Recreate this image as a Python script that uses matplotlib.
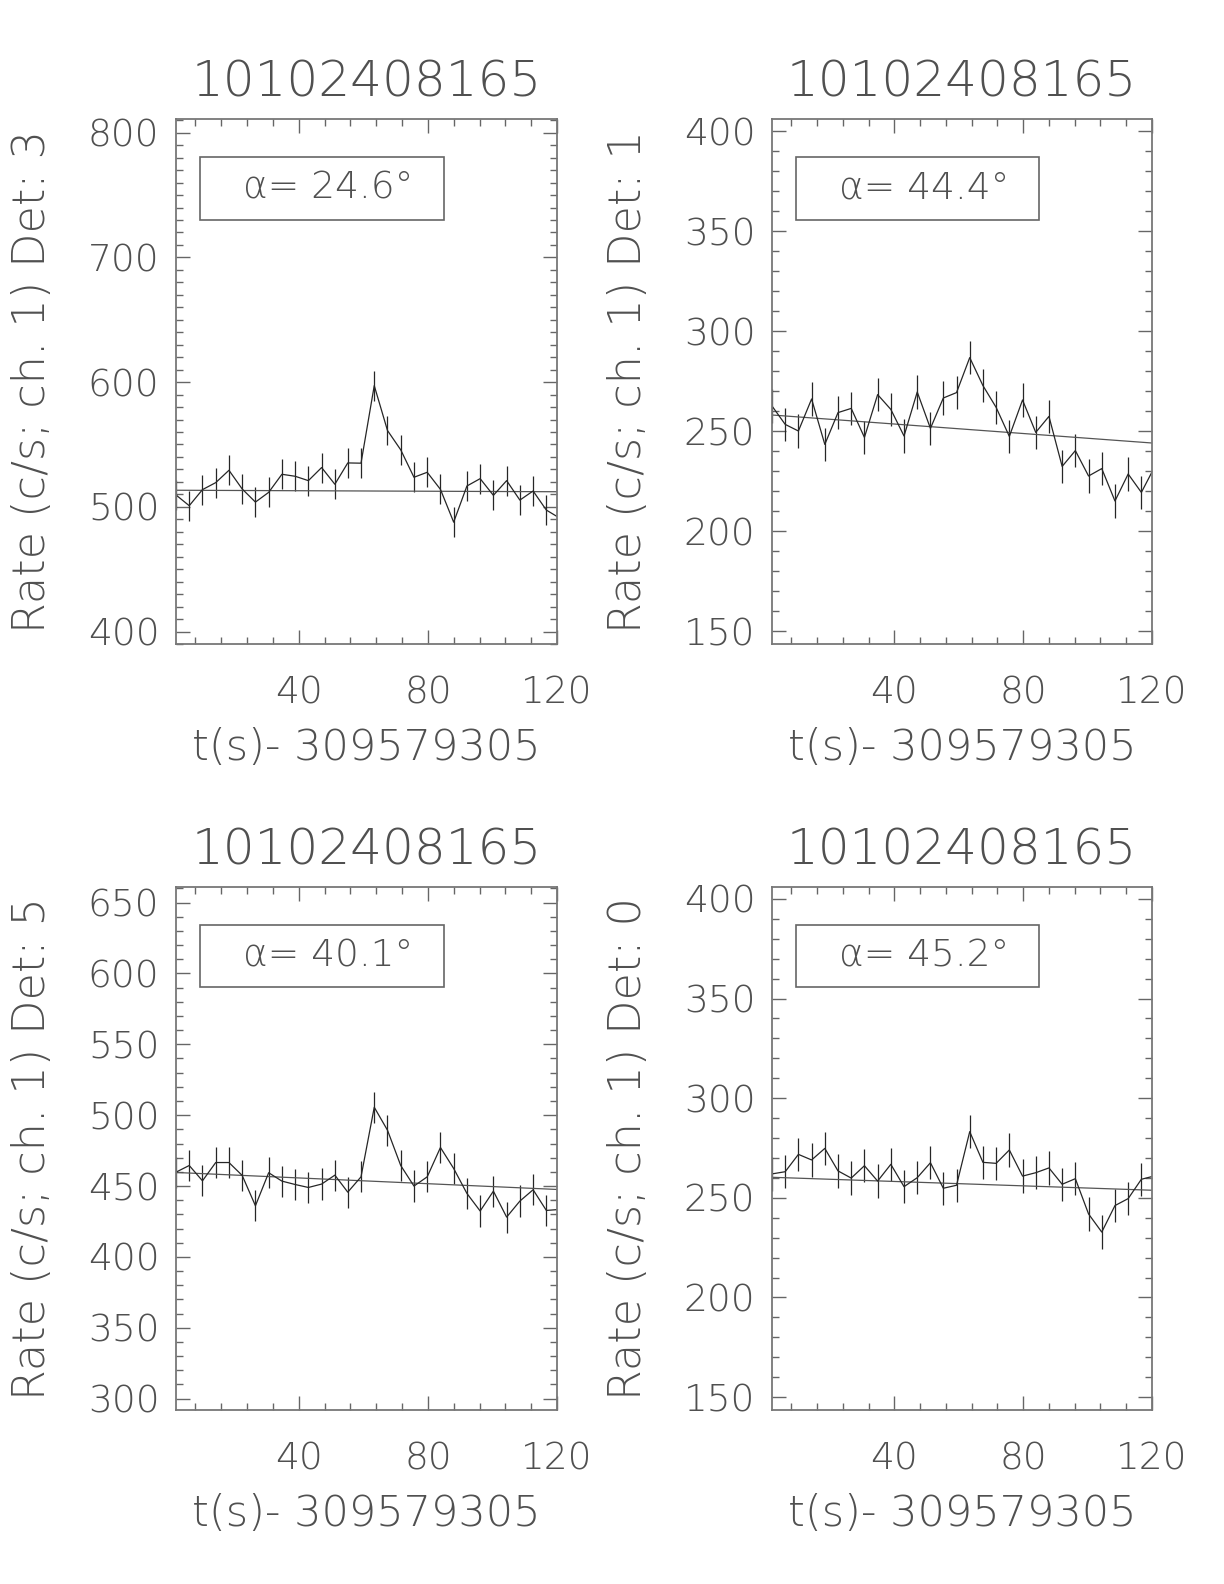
import matplotlib
matplotlib.use("Agg")
from matplotlib import pyplot as plt
from matplotlib.patches import Rectangle
from matplotlib.ticker import MultipleLocator

#+++++ data
obsid = "10102408165"
t0_label = "t(s)- 309579305"

time = [2.0, 6.1, 10.2, 14.3, 18.4, 22.5, 26.6, 30.7, 34.8, 38.9,
        43.0, 47.1, 51.2, 55.2, 59.3, 63.4, 67.5, 71.6, 75.7, 79.8,
        83.9, 88.0, 92.1, 96.2, 100.3, 104.4, 108.5, 112.6, 116.7, 120.8]

rate_det3 = [509.5, 500.9, 513.8, 519.4, 529.3, 514.3, 503.8, 511.6, 526.1, 524.5,
             521.0, 531.5, 518.1, 535.2, 535.0, 597.2, 561.2, 545.7, 523.7, 527.7,
             514.0, 487.7, 516.7, 522.6, 509.2, 521.0, 505.4, 512.7, 497.4, 491.0]
rate_det1 = [262.5, 253.3, 250.0, 266.0, 243.3, 259.2, 261.3, 246.8, 268.2, 260.8,
             247.5, 269.5, 251.3, 266.5, 269.2, 286.7, 272.7, 261.8, 247.3, 265.5,
             249.3, 257.3, 232.3, 240.2, 227.5, 231.2, 215.0, 228.5, 219.3, 232.0]
rate_det5 = [459.8, 464.5, 453.7, 466.6, 466.6, 457.5, 436.1, 459.4, 453.5, 451.1,
             449.0, 451.4, 457.7, 445.7, 456.5, 505.6, 489.4, 464.5, 450.0, 456.5,
             477.2, 462.4, 444.8, 432.4, 446.4, 428.1, 439.4, 447.4, 432.8, 433.5]
rate_det0 = [262.0, 263.1, 271.8, 269.0, 274.8, 263.5, 259.9, 266.1, 258.4, 266.8,
             255.6, 260.1, 267.6, 254.8, 256.3, 283.2, 267.8, 267.3, 274.0, 260.9,
             262.6, 265.0, 256.8, 259.6, 241.9, 232.8, 246.1, 249.6, 259.3, 261.0]

err_det3 = 12.0
err_det1 = 8.3
err_det5 = 11.0
err_det0 = 8.4

# linear background fit, value at t=2 and t=120
fit_t = [2.0, 120.0]
fit_det3 = [513.3, 512.1]
fit_det1 = [258.0, 244.0]
fit_det5 = [459.6, 447.6]
fit_det0 = [260.3, 253.8]

alphas = ["24.6", "44.4", "40.1", "45.2"]
dets = ["3", "1", "5", "0"]
#-----

panels = [
    dict(rate=rate_det3, err=err_det3, fit=fit_det3, ylim=(390, 811), major=100),
    dict(rate=rate_det1, err=err_det1, fit=fit_det1, ylim=(143.5, 406), major=50),
    dict(rate=rate_det5, err=err_det5, fit=fit_det5, ylim=(292, 661), major=50),
    dict(rate=rate_det0, err=err_det0, fit=fit_det0, ylim=(143.5, 406), major=50),
]

txtc = "#505050"
linec = "#262626"
plt.rcParams["font.family"] = ["DejaVu Sans"]
plt.rcParams["font.weight"] = 200
plt.rcParams["axes.titleweight"] = 200
plt.rcParams["axes.labelweight"] = 200

fig = plt.figure(figsize=(12.24, 15.84), dpi=100)
W, H = 1224., 1584.
rects = [(176, 119, 557, 644), (772, 119, 1152, 644),
         (176, 887, 557, 1410), (772, 887, 1152, 1410)]

for i, p in enumerate(panels):
    x0, y0, x1, y1 = rects[i]
    ax = fig.add_axes([x0/W, 1 - y1/H, (x1 - x0)/W, (y1 - y0)/H])

    ax.errorbar(time, p["rate"], yerr=p["err"], fmt="-", color=linec,
                lw=0.9, elinewidth=0.9, capsize=0)
    ax.plot(fit_t, p["fit"], color="#555555", lw=0.9)

    ax.set_xlim(2, 120)
    ax.set_ylim(*p["ylim"])
    ax.xaxis.set_major_locator(MultipleLocator(40))
    ax.xaxis.set_minor_locator(MultipleLocator(8))
    ax.yaxis.set_major_locator(MultipleLocator(p["major"]))
    ax.yaxis.set_minor_locator(MultipleLocator(10))
    ax.tick_params(which="both", direction="in", top=True, right=True,
                   colors="#666666", labelcolor=txtc, labelsize=27)
    ax.tick_params(which="major", length=10, width=1.0)
    ax.tick_params(which="minor", length=5, width=1.0)
    ax.tick_params(axis="x", pad=23)
    ax.tick_params(axis="y", pad=12)
    for s in ax.spines.values():
        s.set_color("#777777")
        s.set_linewidth(1.3)

    ax.set_title(obsid, fontsize=36, color=txtc, pad=16)
    ax.set_xlabel(t0_label, fontsize=31, color=txtc, va="center")
    ax.xaxis.set_label_coords(0.5, -0.197)
    ax.set_ylabel("Rate (c/s; ch. 1) Det: " + dets[i], fontsize=32,
                  color=txtc, va="center")
    ax.yaxis.set_label_coords(-0.377, 0.5)

    ax.add_patch(Rectangle((0.063, 0.808), 0.64, 0.12, transform=ax.transAxes,
                           fill=False, edgecolor="#666666", lw=1.2))
    ax.text(0.40, 0.868, "α= " + alphas[i] + "°", transform=ax.transAxes,
            ha="center", va="center", fontsize=27, color=txtc)

fig.savefig("out.png", dpi=100)
